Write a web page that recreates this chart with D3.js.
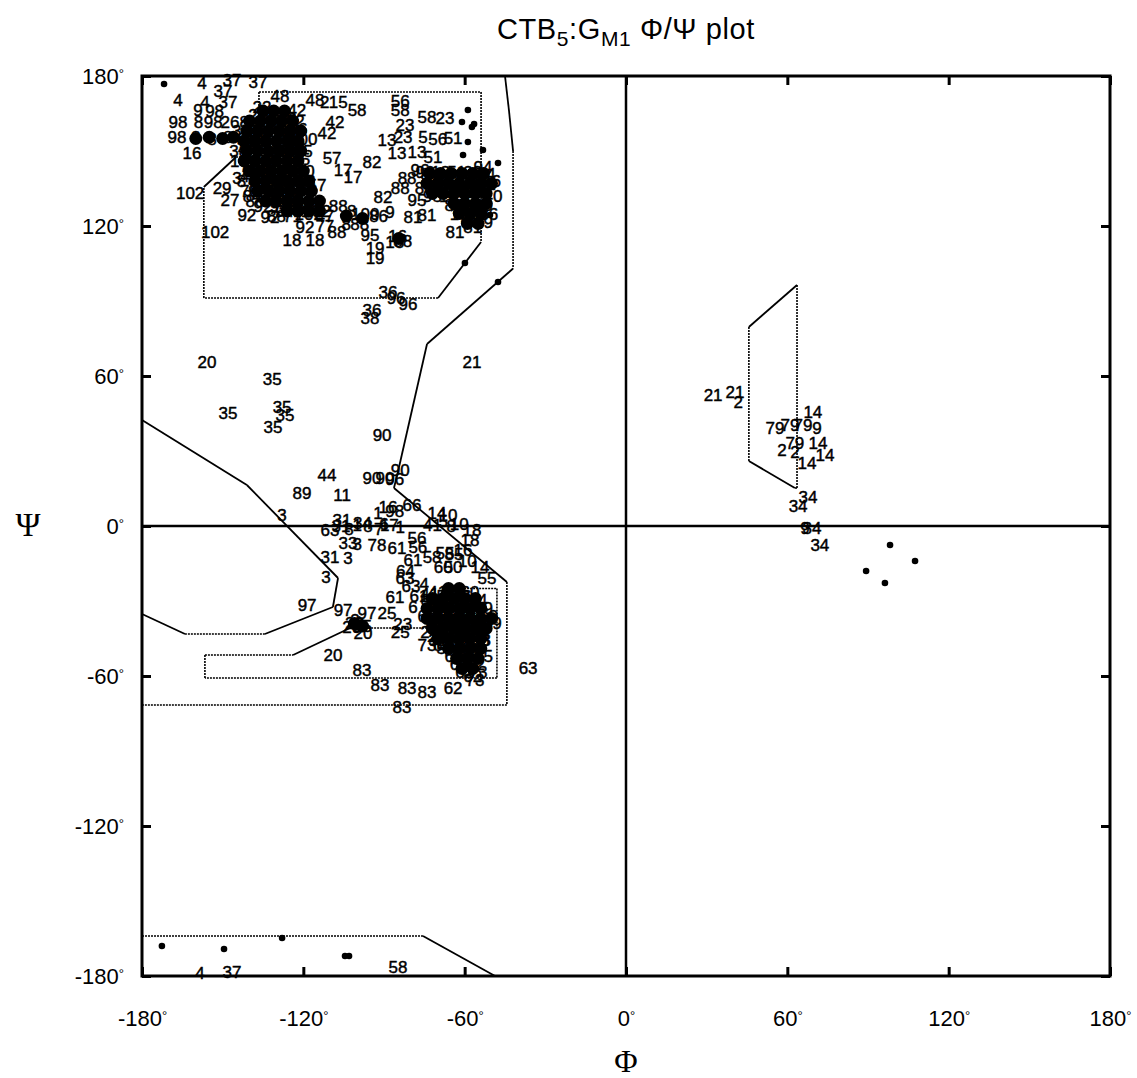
<!DOCTYPE html>
<html>
<head>
<meta charset="utf-8">
<script src="https://cdn.jsdelivr.net/npm/d3@7"></script>
<style>
  body { margin: 0; background: #fff; }
  svg { display: block; }
</style>
</head>
<body>
<svg id="chart"></svg>
<script>
// ---- data ----
const phiTicks = [-180, -120, -60, 0, 60, 120, 180];
const psiTicks = [-180, -120, -60, 0, 60, 120, 180];

// region outlines [phi, psi]
const outerRegion = [[-45,180],[-43.5,166],[-42,150],[-42,103],[-74,72.8],[-84.4,23.6],[-86.3,15.2],[-44.3,-22.4],[-44.3,-71.6],[-180,-71.6]];
const leftWedge = [[-180,42.4],[-141,16.4],[-107.1,-20.8],[-109,-32.4],[-134.3,-43.2],[-164,-43.2],[-180,-35.2]];
const coreBeta = [[-136.5,173.6],[-53.9,173.6],[-53.9,113.6],[-69.9,91.2],[-157,91.2],[-157,135.6],[-145,147.6],[-136.5,147.6],[-136.5,173.6]];
const coreAlpha = [[-156.6,-51.6],[-123.8,-51.6],[-102.6,-40.8],[-72.9,-40.8],[-68,-25],[-48,-25],[-48,-60.8],[-156.6,-60.8],[-156.6,-51.6]];
const leftAlpha = [[45.7,79.6],[63.6,96.4],[63.6,15.2],[62.8,15.2],[45.7,26],[45.7,79.6]];
const bottomRegion = [[-180,-164],[-75.5,-164],[-48.7,-180]];

// unlabeled points
const plainDots = [[-171.8,176.8],[-58.8,166.4],[-61,161.6],[-57.3,159.6],[-56.5,160.8],[-58.8,153.6],[-60.6,148.4],
  [-47.6,145.2],[-50.6,124.4],[-53.2,150.4],[-59.9,105.2],[-47.6,97.6],
  [98.2,-7.6],[107.5,-14],[89.3,-18],[96.3,-22.8],
  [-172.6,-168],[-149.5,-169.2],[-127.9,-164.8],[-104.5,-172],[-103,-172]];

// heavily overplotted points inside the dense clusters
const clusterBeta = [[-135,166],[-131,166],[-127,166],
  [-140,162],[-136,162],[-132,162],[-128,162],[-124,162],
  [-141,158],[-137,158],[-133,158],[-129,158],[-125,158],[-121,158],
  [-142,154],[-138,154],[-134,154],[-130,154],[-126,154],[-122,154],
  [-141,150],[-137,150],[-133,150],[-129,150],[-125,150],[-121,150],
  [-142,146],[-138,146],[-134,146],[-130,146],[-126,146],[-122,146],
  [-140,142],[-136,142],[-132,142],[-128,142],[-124,142],[-120,142],
  [-138,138],[-134,138],[-130,138],[-126,138],[-122,138],[-118,138],
  [-137,134],[-133,134],[-129,134],[-125,134],[-121,134],[-117,134],
  [-134,130],[-130,130],[-126,130],[-122,130],[-118,130],[-114,130],
  [-126,126],[-122,126],[-118,126],[-114,126],[-104,124],[-98,123],
  [-160,155],[-155,155.5],[-150,155],[-146,155.5],[-84.5,115]];
const clusterBetaRight = [[-73,141],[-69,141],[-65,141],[-61,141],[-57,141],[-53,141],
  [-74,137],[-70,137],[-66,137],[-62,137],[-58,137],[-54,137],[-50,137],
  [-72,133],[-68,133],[-64,133],[-60,133],[-56,133],[-52,133],
  [-64,129],[-60,129],[-56,129],[-52,129],
  [-62,125],[-58,125],[-54,125],[-59,121],[-55,121]];
const clusterAlpha = [[-66,-25],[-62,-25],
  [-72,-29],[-68,-29],[-64,-29],[-60,-29],[-56,-29],
  [-74,-33],[-70,-33],[-66,-33],[-62,-33],[-58,-33],[-54,-33],
  [-74,-37],[-70,-37],[-66,-37],[-62,-37],[-58,-37],[-54,-37],[-50,-37],
  [-72,-41],[-68,-41],[-64,-41],[-60,-41],[-56,-41],[-52,-41],
  [-70,-45],[-66,-45],[-62,-45],[-58,-45],[-54,-45],
  [-66,-49],[-62,-49],[-58,-49],[-54,-49],
  [-63,-53],[-59,-53],[-55,-53],[-61,-57],[-57,-57],
  [-101,-39],[-98,-40]];

// residue labels [phi, psi, residue]
const labelsBeta = [[-157.7,177.2,"4"],[-146.5,178.4,"37"],[-136.9,177.6,"37"],[-166.6,170.4,"4"],[-156.6,169.6,"4"],
  [-149.9,174,"37"],[-148,169.6,"37"],[-159.2,166.4,"9"],[-153,166,"98"],
  [-128.7,172,"48"],[-135.4,167.6,"22"],[-122.4,166.4,"42"],[-115.7,170.4,"48"],[-112,169.6,"2"],[-107,169.6,"15"],
  [-100,166.4,"58"],[-108.2,161.6,"42"],[-111.2,157.2,"42"],
  [-166.6,161.6,"98"],[-159,161.6,"8"],[-153.5,161.6,"98"],[-147.3,161.6,"26"],[-142,161.6,"8"],
  [-167,155.6,"98"],[-160,155.6,"8"],[-154,155,"8"],[-148,155.6,"8"],[-143,155,"8"],
  [-161.4,149.2,"16"],[-162.1,133.2,"102"],[-150.2,135.2,"29"],[-147.3,130.4,"27"],[-144.7,139.2,"3"],
  [-141,124.4,"92"],[-132.4,123.6,"92"],[-152.8,117.6,"102"],
  [-124.2,114.4,"18"],[-115.7,114.4,"18"],[-119.4,119.6,"92"],[-107.5,117.6,"88"],[-95.2,116.4,"95"],
  [-93.3,111.2,"19"],[-93.3,107.2,"19"],
  [-109.3,147.2,"57"],[-114.9,136.4,"57"],[-94.5,145.6,"82"],[-101.5,139.6,"17"],[-105.2,142.4,"17"],
  [-81.4,139.2,"88"],[-84,135.2,"88"],[-87.8,125.6,"9"],[-90.4,131.6,"82"],[-77.7,130.4,"95"],
  [-79.2,123.6,"81"],[-74,124.4,"81"],[-63.6,117.6,"81"],
  [-84,166.4,"58"],[-84,170,"56"],[-74,163.6,"58"],[-67.3,163.2,"23"],[-82.2,160.4,"23"],[-82.9,155.6,"23"],
  [-88.9,154.4,"13"],[-85.2,149.2,"13"],[-77.7,149.6,"13"],[-71.8,147.6,"51"],[-64.3,155.2,"51"],
  [-75.5,155.6,"5"],[-70,155,"56"],[-76.6,142.4,"96"],[-53.2,143.6,"94"],
  [-88.5,93.6,"36"],[-81.1,88.8,"96"],[-85.5,91.2,"96"],[-94.5,86.4,"36"],[-95.2,83.2,"38"]];

const labelsBetaCore = [[-137,164.4,"22"],[-131,164,"40"],[-126,163,"76"],
  [-140,160,"38"],[-134,160,"47"],[-128,160,"49"],[-122,159,"86"],
  [-138,156,"70"],[-132,156,"72"],[-126,156,"84"],[-120,155,"100"],
  [-141,152,"26"],[-135,152,"75"],[-129,152,"77"],[-123,151,"99"],
  [-139,148,"94"],[-133,148,"101"],[-127,148,"71"],[-121,147,"85"],
  [-142,144,"7"],[-136,144,"8"],[-130,144,"40"],[-124,144,"78"],
  [-140,140,"48"],[-134,140,"87"],[-128,140,"98"],[-122,139,"70"],
  [-137,136,"82"],[-131,136,"99"],[-125,136,"76"],[-119,135,"8"],
  [-139,132,"84"],[-133,132,"101"],[-127,132,"38"],[-120,132,"57"],
  [-135,128,"92"],[-129,128,"94"],[-123,128,"86"],[-117,128,"75"],
  [-130,124,"88"],[-124,124,"71"],[-118,125,"102"],[-112,124,"47"],
  [-107,128,"88"],[-102,126,"8"],[-97,125,"100"],[-92,124,"86"],[-104,121,"8"],[-99,121,"88"],[-112,120,"77"],
  [-85,116,"16"],[-83,114,"88"],[-86,113.5,"18"],
  [-134,162,"42"],[-128,162,"48"],[-123,162,"22"],
  [-143,158,"37"],[-137,158,"98"],[-131,158,"26"],[-125,157,"70"],
  [-141,154,"40"],[-135,154,"84"],[-129,154,"49"],[-123,154,"86"],
  [-144,150,"38"],[-138,150,"77"],[-132,150,"72"],[-126,150,"99"],[-120,150,"85"],
  [-142,146,"101"],[-136,146,"47"],[-130,146,"75"],[-124,146,"76"],
  [-139,142,"82"],[-133,142,"94"],[-127,142,"71"],[-121,142,"100"],
  [-143,138,"8"],[-137,138,"40"],[-131,138,"78"],[-125,138,"87"],[-119,138,"98"],
  [-140,134,"70"],[-134,134,"26"],[-128,134,"99"],[-122,134,"57"],
  [-138,130,"88"],[-132,130,"92"],[-126,130,"38"],[-120,130,"84"],
  [-127,126,"94"],[-121,126,"71"],[-115,126,"102"]];

const labelsBetaRight = [[-74.8,141.6,"96"],[-69,141.6,"13"],[-63,141.6,"51"],[-57,141.6,"23"],[-52,141,"94"],
  [-73,138.4,"81"],[-67,138.4,"84"],[-61,138.4,"72"],[-55,138.4,"86"],[-50,138,"16"],
  [-75,135.2,"88"],[-69,135.2,"47"],[-63,135.2,"92"],[-57,135.2,"68"],[-52,135,"9"],
  [-72,132,"95"],[-66,132,"18"],[-60,132,"5"],[-54,132,"77"],[-49.5,132,"40"],
  [-64,128.4,"81"],[-58,128.4,"15"],[-53,128.4,"29"],
  [-62,124.8,"18"],[-56,124.8,"81"],[-51,124.8,"36"],
  [-59,121.6,"8"],[-53,121.6,"19"],[-57,119.6,"81"],
  [-72,140,"75"],[-66,140,"98"],[-60,140,"70"],[-54,140,"26"],[-70,136.8,"48"],[-64,136.8,"49"],
  [-58,136.8,"38"],[-52,136.8,"71"],[-67,133.6,"99"],[-61,133.6,"101"],[-55,133.6,"85"],
  [-61,126.6,"86"],[-55,126.6,"82"],[-58,123,"88"]];

const labelsMiddle = [[-155.8,65.6,"20"],[-131.6,58.8,"35"],[-148,45.2,"35"],[-127.9,47.6,"35"],[-126.8,44.4,"35"],
  [-131.3,39.6,"35"],[-57.3,65.6,"21"],[-90.7,36.4,"90"],[-111.2,20.4,"44"],[-120.5,13.2,"89"],[-105.6,12.4,"11"],
  [-127.9,4.4,"3"],[-94.5,19.2,"90"],[-89.6,19.2,"90"],[-84,22.4,"90"],[-86,19,"96"]];

const labelsAlpha = [[-105.6,2.4,"31"],[-110.1,-1.6,"63"],[-103.4,-6.8,"33"],[-100,-7,"3"],[-110.1,-12.4,"31"],
  [-103.4,-12.8,"3"],[-111.6,-20.4,"3"],[-92.6,-7.6,"78"],[-85.2,-8.8,"61"],[-77.7,-4.8,"56"],[-77.4,-8.4,"56"],
  [-92.2,5.2,"1"],[-88.5,7.6,"16"],[-79.6,8.4,"66"],[-86,6,"98"],[-70.3,5.2,"14"],[-66.2,4.4,"10"],
  [-57.3,-1.6,"18"],[-58,-5.6,"18"],[-60.6,-9.6,"16"],[-72.1,-12.4,"58"],[-67.3,-10.8,"55"],[-64,-11,"85"],
  [-79.2,-13.6,"61"],[-68,-16.4,"60"],[-64.3,-16.4,"50"],[-59,-14,"10"],[-54.3,-16.4,"14"],[-51.7,-20.8,"55"],
  [-82.2,-20.8,"63"],[-82,-18,"64"],[-85.9,-28.4,"61"],[-79.2,-32.4,"6"],
  [-118.6,-31.6,"97"],[-105.2,-33.6,"97"],[-96.3,-34.8,"97"],[-88.9,-34.8,"25"],[-100.8,-37.6,"2"],
  [-97.8,-42.8,"20"],[-109,-51.6,"20"],[-84,-42.4,"25"],[-74,-47.6,"73"],[-70,-47.6,"6"],[-83,-39,"23"],
  [-98.2,-57.6,"83"],[-91.5,-63.6,"83"],[-81.4,-64.8,"83"],[-74,-66.4,"83"],[-83.3,-72.4,"83"],
  [-64.3,-64.8,"62"],[-56.2,-61.6,"73"],[-48,-38.8,"9"],[-52.4,-45.6,"3"],[-36.4,-56.8,"63"],
  [-106,0,"31"],[-100,0.5,"1"],[-96,0,"8"],[-92,-1,"7"],[-88,0.5,"17"],[-84,-0.5,"1"],[-103,-1,"8"],
  [-98,1.2,"34"],[-90,1,"6"],[-68,2,"5"],[-65,0,"8"],[-62,1,"10"],[-72,0.5,"41"],
  [-101,-38.8,"20"],[-98,-40,"25"],[-102,-40.5,"20"],[-99,-39,"2"],
  [-80,-24,"63"],[-75,-23,"4"],[-77,-28,"61"],[-73,-27,"41"]];

const labelsAlphaCore = [[-70,-26.4,"41"],[-64,-26.4,"57"],[-58,-26.4,"60"],
  [-73,-29.6,"64"],[-67,-29.6,"41"],[-61,-29.6,"5"],[-55,-29.6,"14"],
  [-71,-32.8,"26"],[-65,-32.8,"39"],[-59,-32.8,"62"],[-53,-32.8,"49"],
  [-74,-36,"65"],[-68,-36,"50"],[-62,-36,"73"],[-56,-36,"27"],[-51,-36,"59"],
  [-71,-39.2,"43"],[-65,-39.2,"45"],[-59,-39.2,"30"],[-53,-39.2,"69"],
  [-73,-42.4,"24"],[-67,-42.4,"67"],[-61,-42.4,"32"],[-55,-42.4,"28"],
  [-70,-45.6,"31"],[-64,-45.6,"54"],[-58,-45.6,"63"],[-52,-45.6,"3"],
  [-67,-48.8,"53"],[-61,-48.8,"79"],[-55,-48.8,"8"],
  [-64,-52,"66"],[-58,-52,"35"],[-53,-52,"65"],
  [-62,-55.2,"60"],[-56,-55.2,"52"],[-60,-58.4,"62"],[-55,-58.4,"73"],
  [-67,-28,"56"],[-61,-28,"46"],[-70,-31.2,"58"],[-64,-31.2,"33"],[-58,-31.2,"28"],
  [-68,-34.4,"68"],[-62,-34.4,"47"],[-56,-34.4,"36"],[-71,-37.6,"44"],[-65,-37.6,"71"],
  [-59,-37.6,"38"],[-53,-37.6,"26"],[-68,-40.8,"43"],[-62,-40.8,"51"],[-56,-40.8,"61"],
  [-70,-44,"25"],[-64,-44,"72"],[-58,-44,"29"],[-67,-47.2,"65"],[-61,-47.2,"34"],[-55,-47.2,"57"],
  [-61,-50.4,"64"],[-56,-50.4,"42"],[-59,-53.6,"30"],[-57,-60,"62"]];

const labelsLeftHanded = [[32.4,52.4,"21"],[40.5,53.6,"21"],[41.7,49.6,"2"],[69.5,45.6,"14"],[55.4,39.2,"79"],
  [61,40.4,"79"],[65.8,40.4,"79"],[71,39.2,"9"],[58,30.4,"2"],[62.8,33.2,"79"],[62.8,29.6,"2"],
  [71.4,33.2,"14"],[74,28.4,"14"],[67.3,25.2,"14"],[67.7,11.6,"34"],[64,8,"34"],[69.2,-0.8,"34"],
  [66.6,-0.8,"9"],[72.1,-7.6,"34"]];

const labelsBottom = [[-158.4,-178.8,"4"],[-146.5,-178.4,"37"],[-84.8,-176.4,"58"]];

// ---- layout ----
const W = 1137, H = 1078;
const svg = d3.select("#chart").attr("width", W).attr("height", H);

const x = d3.scaleLinear().domain([-180, 180]).range([142, 1110]);
const y = d3.scaleLinear().domain([-180, 180]).range([976, 76]);

// title
const title = svg.append("text")
  .attr("x", 626).attr("y", 39)
  .attr("text-anchor", "middle")
  .style("font-family", "'Liberation Sans', Arial, sans-serif")
  .style("font-size", "29px")
  .style("letter-spacing", "0.6px");
title.append("tspan").text("CTB");
title.append("tspan").attr("dy", 7).style("font-size", "21px").text("5");
title.append("tspan").attr("dy", -7).text(":G");
title.append("tspan").attr("dy", 7).style("font-size", "21px").text("M1");
title.append("tspan").attr("dy", -7).text(" \u03A6/\u03A8 plot");

// region outlines, axis-parallel edges drawn dotted
const regionG = svg.append("g");
[outerRegion, leftWedge, coreBeta, coreAlpha, leftAlpha, bottomRegion].forEach(poly => {
  for (let i = 0; i < poly.length - 1; i++) {
    const a = poly[i], b = poly[i + 1];
    const straight = (a[0] === b[0] || a[1] === b[1]);
    regionG.append("line")
      .attr("x1", x(a[0])).attr("y1", y(a[1]))
      .attr("x2", x(b[0])).attr("y2", y(b[1]))
      .attr("stroke", "#000")
      .attr("stroke-width", straight ? 1.6 : 1.8)
      .attr("stroke-dasharray", straight ? "2,1" : null);
  }
});

// zero lines
svg.append("line").attr("x1", x(-180)).attr("x2", x(180)).attr("y1", y(0)).attr("y2", y(0))
  .attr("stroke", "#000").attr("stroke-width", 2.5);
svg.append("line").attr("x1", x(0)).attr("x2", x(0)).attr("y1", y(-180)).attr("y2", y(180))
  .attr("stroke", "#000").attr("stroke-width", 2.5);

// points
svg.append("g").selectAll("circle")
  .data(plainDots)
  .join("circle")
  .attr("cx", d => x(d[0])).attr("cy", d => y(d[1]))
  .attr("r", 3.3).attr("fill", "#000");

svg.append("g").selectAll("circle")
  .data([].concat(clusterBeta, clusterBetaRight, clusterAlpha))
  .join("circle")
  .attr("cx", d => x(d[0])).attr("cy", d => y(d[1]))
  .attr("r", 6.5).attr("fill", "#000");

const allLabels = [].concat(labelsBeta, labelsBetaCore, labelsBetaRight, labelsMiddle,
  labelsAlpha, labelsAlphaCore, labelsLeftHanded, labelsBottom);
svg.append("g").selectAll("text")
  .data(allLabels)
  .join("text")
  .attr("x", d => x(d[0])).attr("y", d => y(d[1]))
  .attr("dy", "0.36em")
  .attr("text-anchor", "middle")
  .attr("fill", "#000")
  .attr("stroke", "#000")
  .attr("stroke-width", 0.45)
  .style("font-family", "'Liberation Sans', Arial, sans-serif")
  .style("font-size", "17px")
  .text(d => d[2]);

// axes (inward ticks)
function degLabels(sel) {
  sel.selectAll(".tick text").each(function(d) {
    const t = d3.select(this);
    t.text(null);
    t.append("tspan").text(d);
    t.append("tspan").attr("dy", "-0.45em").style("font-size", "13px").text("\u00B0");
  });
}
const fontAxis = g => g.style("font-family", "'Liberation Sans', Arial, sans-serif").style("font-size", "22px");

svg.append("g").attr("transform", `translate(0,${y(-180)})`)
  .call(d3.axisBottom(x).tickValues(phiTicks).tickSizeInner(-9).tickSizeOuter(0).tickPadding(34))
  .call(fontAxis).call(degLabels);
svg.append("g").attr("transform", `translate(0,${y(180)})`)
  .call(d3.axisTop(x).tickValues(phiTicks).tickSizeInner(-9).tickSizeOuter(0).tickFormat(""));
svg.append("g").attr("transform", `translate(${x(-180)},0)`)
  .call(d3.axisLeft(y).tickValues(psiTicks).tickSizeInner(-9).tickSizeOuter(0).tickPadding(18))
  .call(fontAxis).call(degLabels);
svg.append("g").attr("transform", `translate(${x(180)},0)`)
  .call(d3.axisRight(y).tickValues(psiTicks).tickSizeInner(-9).tickSizeOuter(0).tickFormat(""));

svg.selectAll(".domain").remove();
svg.selectAll(".tick line").attr("stroke", "#000").attr("stroke-width", 3);
svg.selectAll(".tick text").attr("fill", "#000");

// frame
svg.append("rect")
  .attr("x", x(-180)).attr("y", y(180))
  .attr("width", x(180) - x(-180)).attr("height", y(-180) - y(180))
  .attr("fill", "none").attr("stroke", "#000").attr("stroke-width", 3);

// axis titles
svg.append("text").attr("x", 28).attr("y", y(0) + 10)
  .attr("text-anchor", "middle")
  .style("font-family", "'Liberation Serif', 'Times New Roman', serif")
  .style("font-size", "34px")
  .text("\u03A8");
svg.append("text").attr("x", x(0)).attr("y", 1072)
  .attr("text-anchor", "middle")
  .style("font-family", "'Liberation Serif', 'Times New Roman', serif")
  .style("font-size", "32px")
  .text("\u03A6");
</script>
</body>
</html>
